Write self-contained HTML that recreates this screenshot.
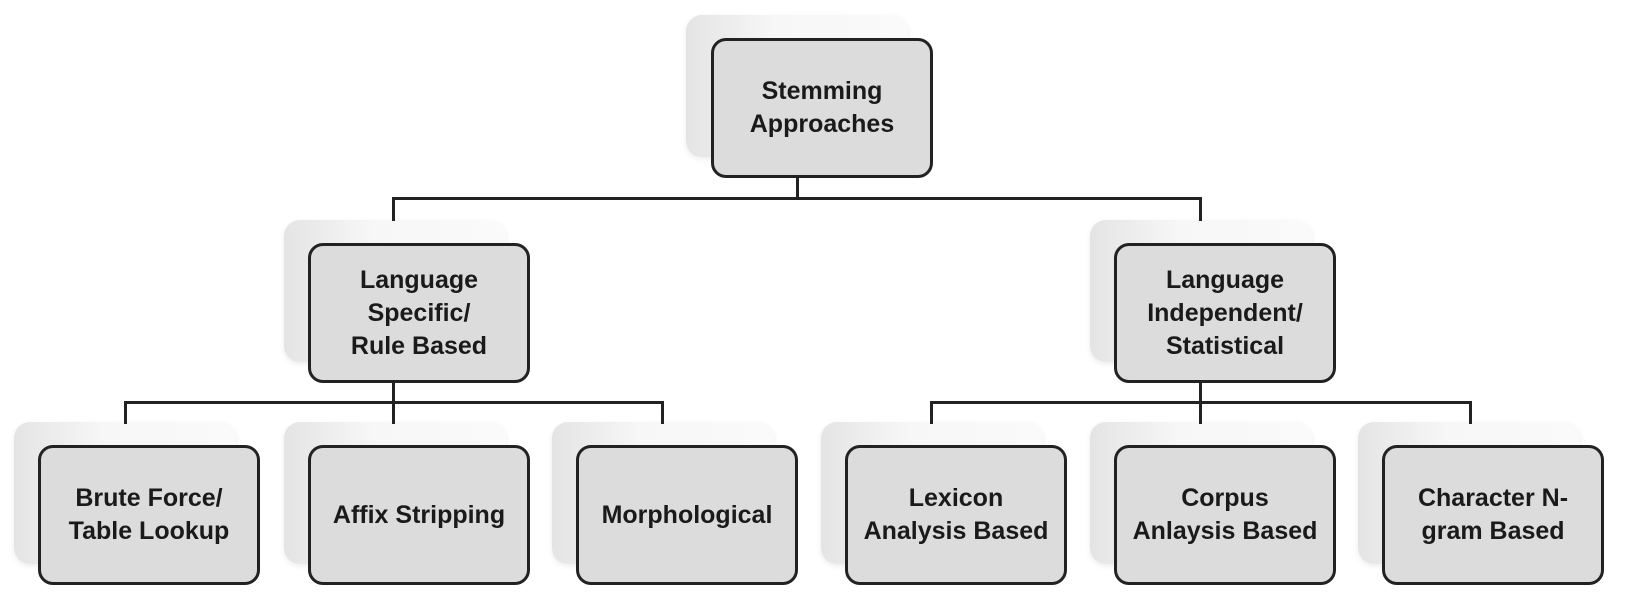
<!DOCTYPE html>
<html><head><style>
body{margin:0;width:1630px;height:614px;background:#fff;position:relative;overflow:hidden;font-family:"Liberation Sans",sans-serif}
.s{position:absolute;width:222px;height:142px;border-radius:16px;background:linear-gradient(90deg,#e4e4e4,#f7f7f7 40%,#fafafa);box-shadow:0 2px 6px rgba(0,0,0,.08)}
.b{position:absolute;width:216px;height:134px;border:3px solid #222;border-radius:15px;background:#dcdcdc;display:flex;align-items:center;justify-content:center;text-align:center;font-weight:bold;font-size:25px;line-height:33px;color:#1a1a1a}
.l{position:absolute;background:#222}
</style></head><body>
<div class="s" style="left:686px;top:15px"></div>
<div class="s" style="left:284px;top:220px"></div>
<div class="s" style="left:1090px;top:220px"></div>
<div class="s" style="left:14px;top:422px"></div>
<div class="s" style="left:284px;top:422px"></div>
<div class="s" style="left:552px;top:422px"></div>
<div class="s" style="left:821px;top:422px"></div>
<div class="s" style="left:1090px;top:422px"></div>
<div class="s" style="left:1358px;top:422px"></div>

<div class="l" style="left:796px;top:178px;width:3px;height:21px"></div>
<div class="l" style="left:392px;top:197px;width:810px;height:3px"></div>
<div class="l" style="left:392px;top:197px;width:3px;height:24px"></div>
<div class="l" style="left:1199px;top:197px;width:3px;height:24px"></div>

<div class="l" style="left:392px;top:383px;width:3px;height:20px"></div>
<div class="l" style="left:124px;top:401px;width:540px;height:3px"></div>
<div class="l" style="left:124px;top:401px;width:3px;height:23px"></div>
<div class="l" style="left:392px;top:401px;width:3px;height:23px"></div>
<div class="l" style="left:661px;top:401px;width:3px;height:23px"></div>

<div class="l" style="left:1199px;top:383px;width:3px;height:20px"></div>
<div class="l" style="left:930px;top:401px;width:542px;height:3px"></div>
<div class="l" style="left:930px;top:401px;width:3px;height:23px"></div>
<div class="l" style="left:1199px;top:401px;width:3px;height:23px"></div>
<div class="l" style="left:1469px;top:401px;width:3px;height:23px"></div>

<div class="b" style="left:711px;top:38px">Stemming<br>Approaches</div>
<div class="b" style="left:308px;top:243px">Language<br>Specific/<br>Rule Based</div>
<div class="b" style="left:1114px;top:243px">Language<br>Independent/<br>Statistical</div>
<div class="b" style="left:38px;top:445px">Brute Force/<br>Table Lookup</div>
<div class="b" style="left:308px;top:445px">Affix Stripping</div>
<div class="b" style="left:576px;top:445px">Morphological</div>
<div class="b" style="left:845px;top:445px">Lexicon<br>Analysis Based</div>
<div class="b" style="left:1114px;top:445px">Corpus<br>Anlaysis Based</div>
<div class="b" style="left:1382px;top:445px">Character N-<br>gram Based</div>
</body></html>
